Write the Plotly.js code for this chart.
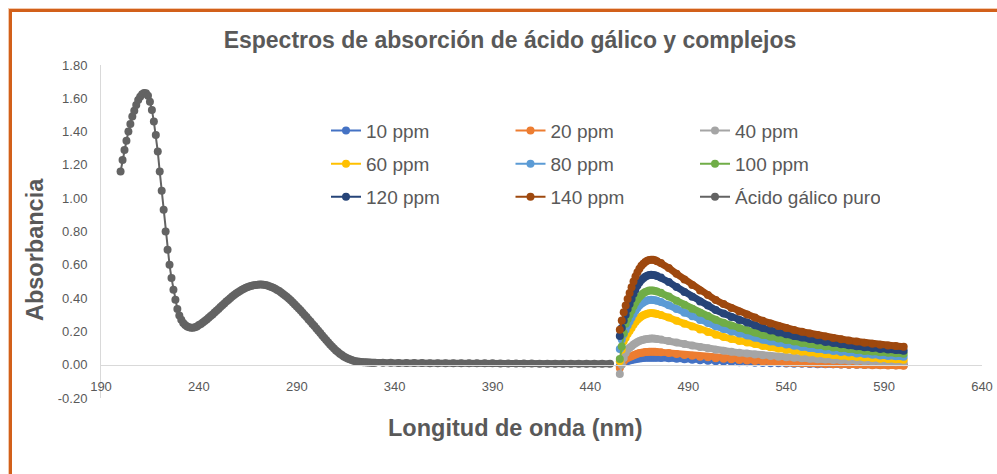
<!DOCTYPE html>
<html>
<head>
<meta charset="utf-8">
<script src="https://cdn.plot.ly/plotly-3.0.1.min.js"></script>
<style>
  html, body { margin: 0; padding: 0; background: #ffffff; }
  #wrap { position: relative; width: 997px; height: 474px; overflow: hidden; }
  #chart { position: absolute; left: 0; top: 0; width: 997px; height: 474px; }
  #frame { position: absolute; left: 9px; top: 9px; width: 1100px; height: 600px;
           border-left: 3px solid #d2601a; border-top: 3px solid #d2601a;
           box-shadow: -1px -1px 0 #f3c9ac; pointer-events: none; }
</style>
</head>
<body>
<div id="wrap"><div id="chart"></div><div id="frame"></div></div>
<script>
// Wavelength grid helper (nm)
function seq(start, stop, step) {
  const out = [];
  for (let v = start; v <= stop; v += step) out.push(v);
  return out;
}

// Pure gallic acid spectrum
const gallicWavelength = seq(200, 330, 1).concat(seq(334, 450, 4));
const gallicAbs = [
  1.160,1.230,1.290,1.345,1.400,1.445,1.490,1.525,1.560,1.590,
  1.610,1.625,1.632,1.630,1.615,1.580,1.530,1.460,1.380,1.280,
  1.160,1.045,0.930,0.800,0.690,0.600,0.520,0.450,0.390,0.335,
  0.295,0.270,0.250,0.238,0.230,0.225,0.222,0.222,0.225,0.230,
  0.238,0.245,0.254,0.263,0.272,0.282,0.292,0.302,0.313,0.324,
  0.335,0.346,0.357,0.368,0.379,0.389,0.399,0.409,0.418,0.427,
  0.435,0.443,0.450,0.456,0.462,0.467,0.471,0.474,0.477,0.479,
  0.480,0.481,0.481,0.480,0.478,0.475,0.471,0.467,0.462,0.456,
  0.449,0.442,0.434,0.425,0.416,0.406,0.396,0.385,0.374,0.362,
  0.350,0.338,0.325,0.312,0.299,0.286,0.272,0.259,0.245,0.232,
  0.218,0.204,0.190,0.176,0.162,0.148,0.135,0.122,0.109,0.097,
  0.086,0.076,0.066,0.058,0.050,0.043,0.037,0.032,0.028,0.024,
  0.021,0.019,0.017,0.016,0.015,0.014,0.013,0.013,0.012,0.012,
  0.012,
  0.011,0.011,0.010,0.010,0.010,0.010,0.009,0.009,0.009,0.009,
  0.008,0.008,0.008,0.008,0.008,0.007,0.007,0.007,0.007,0.007,
  0.006,0.006,0.006,0.006,0.006,0.005,0.005,0.005,0.005,0.005
];

// Complex spectra (shared wavelength grid)
const complexWavelength = seq(455, 474, 1).concat(seq(476, 600, 4));
const abs10 = [
  -0.010,0.005,0.015,0.018,0.022,0.025,0.028,0.031,0.033,0.036,0.037,0.039,0.040,0.041,0.041,0.042,0.042,0.042,0.042,0.041,
  0.040,0.038,0.035,0.032,0.029,0.026,0.024,0.021,0.019,0.017,0.015,0.014,0.012,0.010,0.009,0.008,0.007,0.006,0.005,0.004,
  0.003,0.002,0.002,0.001,0.000,0.000,-0.001,-0.001,-0.002,-0.002,-0.003,-0.003
];
const abs20 = [
  -0.020,0.005,0.020,0.034,0.040,0.046,0.051,0.057,0.062,0.066,0.070,0.072,0.074,0.076,0.077,0.078,0.078,0.078,0.078,0.077,
  0.075,0.070,0.065,0.059,0.054,0.048,0.044,0.039,0.035,0.032,0.028,0.025,0.022,0.019,0.017,0.014,0.012,0.010,0.009,0.007,
  0.005,0.004,0.002,0.001,0.000,-0.001,-0.002,-0.003,-0.004,-0.005,-0.005,-0.006
];
const abs40 = [
  -0.056,0.000,0.040,0.070,0.092,0.102,0.111,0.121,0.129,0.136,0.142,0.147,0.150,0.153,0.155,0.156,0.157,0.157,0.156,0.154,
  0.151,0.143,0.134,0.124,0.115,0.106,0.099,0.090,0.084,0.078,0.072,0.067,0.062,0.057,0.052,0.048,0.045,0.042,0.039,0.036,
  0.033,0.031,0.028,0.026,0.024,0.022,0.021,0.019,0.017,0.016,0.015,0.014
];
const abs60 = [
  0.020,0.090,0.141,0.162,0.184,0.202,0.221,0.240,0.256,0.270,0.281,0.290,0.297,0.302,0.306,0.309,0.310,0.309,0.308,0.305,
  0.299,0.283,0.264,0.246,0.229,0.211,0.196,0.180,0.167,0.155,0.143,0.134,0.124,0.113,0.105,0.097,0.090,0.084,0.078,0.073,
  0.067,0.063,0.058,0.054,0.050,0.047,0.043,0.040,0.036,0.034,0.032,0.030
];
const abs80 = [
  0.094,0.151,0.183,0.210,0.236,0.259,0.282,0.304,0.324,0.341,0.355,0.366,0.374,0.381,0.386,0.389,0.390,0.389,0.387,0.384,
  0.377,0.357,0.335,0.312,0.291,0.269,0.251,0.231,0.215,0.200,0.187,0.175,0.162,0.150,0.140,0.130,0.122,0.114,0.107,0.100,
  0.094,0.088,0.082,0.077,0.073,0.068,0.064,0.060,0.056,0.053,0.051,0.048
];
const abs100 = [
  0.034,0.110,0.190,0.246,0.275,0.300,0.326,0.351,0.373,0.392,0.407,0.419,0.429,0.436,0.441,0.445,0.446,0.446,0.443,0.440,
  0.432,0.410,0.384,0.360,0.336,0.312,0.292,0.270,0.252,0.235,0.220,0.207,0.193,0.179,0.168,0.157,0.148,0.139,0.131,0.124,
  0.117,0.110,0.104,0.099,0.094,0.089,0.083,0.079,0.075,0.072,0.069,0.066
];
const abs120 = [
  0.173,0.221,0.265,0.300,0.334,0.365,0.395,0.426,0.452,0.475,0.493,0.508,0.519,0.528,0.534,0.538,0.540,0.539,0.537,0.532,
  0.523,0.497,0.466,0.436,0.408,0.379,0.355,0.328,0.307,0.287,0.269,0.253,0.237,0.220,0.206,0.193,0.183,0.172,0.163,0.154,
  0.145,0.137,0.130,0.123,0.117,0.111,0.105,0.100,0.095,0.091,0.088,0.084
];
const abs140 = [
  0.210,0.265,0.315,0.355,0.395,0.430,0.465,0.500,0.530,0.556,0.577,0.594,0.607,0.617,0.624,0.629,0.631,0.630,0.627,0.622,
  0.611,0.581,0.546,0.512,0.479,0.446,0.419,0.388,0.364,0.341,0.320,0.302,0.283,0.264,0.248,0.233,0.221,0.209,0.198,0.188,
  0.178,0.169,0.160,0.153,0.146,0.139,0.132,0.126,0.120,0.116,0.112,0.108
];

// Axis ticks
const xTickVals = [190, 240, 290, 340, 390, 440, 490, 540, 590, 640];
const yTickVals = [-0.2, 0, 0.2, 0.4, 0.6, 0.8, 1.0, 1.2, 1.4, 1.6, 1.8];
const yTickLabels = ['-0.20','0.00','0.20','0.40','0.60','0.80','1.00','1.20','1.40','1.60','1.80'];

const seriesNames = ['10 ppm','20 ppm','40 ppm','60 ppm','80 ppm','100 ppm','120 ppm','140 ppm','Ácido gálico puro'];
const seriesColors = ['#4472c4','#ed7d31','#a5a5a5','#ffc000','#5b9bd5','#70ad47','#264478','#9e480e','#636363'];
const seriesX = [complexWavelength, complexWavelength, complexWavelength, complexWavelength, complexWavelength,
                 complexWavelength, complexWavelength, complexWavelength, gallicWavelength];
const seriesY = [abs10, abs20, abs40, abs60, abs80, abs100, abs120, abs140, gallicAbs];
const legendRow = ['legend','legend','legend','legend2','legend2','legend2','legend3','legend3','legend3'];
// index from which the densely overlapping markers merge into a solid band
const bandStart = [19, 19, 19, 19, 19, 19, 19, 19, 125];

const traces = [];
seriesNames.forEach((name, i) => {
  // solid band under the overlapping markers of the slowly varying part
  traces.push({
    type: 'scatter', mode: 'lines', showlegend: false, hoverinfo: 'skip',
    x: seriesX[i].slice(bandStart[i]), y: seriesY[i].slice(bandStart[i]),
    line: { color: seriesColors[i], width: 7 }
  });
  traces.push({
    type: 'scatter', mode: 'lines+markers', name: name, legend: legendRow[i],
    x: seriesX[i], y: seriesY[i], hoverinfo: 'skip',
    line: { color: seriesColors[i], width: 2 },
    marker: { color: seriesColors[i], size: 8 }
  });
});

const FONT = 'Liberation Sans, Arial, sans-serif';
const textGrey = '#595959';
const legendBase = {
  orientation: 'h', xanchor: 'left', yanchor: 'middle', x: 0.2554,
  font: { family: FONT, size: 19, color: textGrey },
  entrywidth: 139.5, itemwidth: 30, bgcolor: 'rgba(0,0,0,0)', traceorder: 'normal'
};

const layout = {
  width: 997, height: 474,
  margin: { l: 101, r: 15, t: 65, b: 76, pad: 0 },
  paper_bgcolor: '#ffffff', plot_bgcolor: '#ffffff',
  font: { family: FONT, color: textGrey },
  showlegend: true,
  title: {
    text: 'Espectros de absorción de ácido gálico y complejos',
    x: 0.5115, xanchor: 'center', y: 0.9156, yanchor: 'middle',
    font: { family: FONT, size: 23, weight: 'bold', color: textGrey }
  },
  xaxis: {
    range: [190, 640], tickmode: 'array', tickvals: xTickVals,
    anchor: 'free', position: 0.1,
    showgrid: false, zeroline: false,
    showline: true, linecolor: '#d9d9d9', linewidth: 1,
    ticks: '', ticklabelstandoff: 10,
    tickfont: { family: FONT, size: 13, color: textGrey }
  },
  yaxis: {
    range: [-0.2, 1.8], tickmode: 'array', tickvals: yTickVals, ticktext: yTickLabels,
    showgrid: false, zeroline: false,
    showline: true, linecolor: '#d9d9d9', linewidth: 1,
    ticks: '', ticklabelstandoff: 10,
    tickfont: { family: FONT, size: 13, color: textGrey }
  },
  legend: Object.assign({}, legendBase, { y: 0.8027 }),
  legend2: Object.assign({}, legendBase, { y: 0.7033 }),
  legend3: Object.assign({}, legendBase, { y: 0.604 }),
  annotations: [
    { text: 'Longitud de onda (nm)', xref: 'paper', yref: 'paper', x: 0.47, y: -0.089,
      xanchor: 'center', yanchor: 'middle', showarrow: false,
      font: { family: FONT, size: 23.5, weight: 'bold', color: textGrey } },
    { text: 'Absorbancia', xref: 'paper', yref: 'paper', x: -0.075, y: 0.447, textangle: -90,
      xanchor: 'center', yanchor: 'middle', showarrow: false,
      font: { family: FONT, size: 23.5, weight: 'bold', color: textGrey } }
  ]
};

Plotly.newPlot('chart', traces, layout, { staticPlot: true, displayModeBar: false });
</script>
</body>
</html>
